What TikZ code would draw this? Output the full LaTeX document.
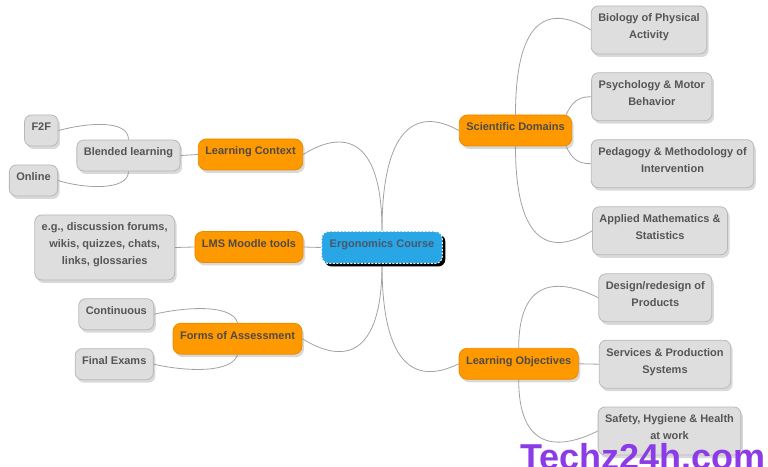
\documentclass[tikz,border=0pt]{standalone}
\usepackage{fontspec}
\setmainfont{Liberation Sans}
\usepackage{tikz}
\usetikzlibrary{shadows,calc}
\definecolor{boxfill}{HTML}{DEDEDE}
\definecolor{boxline}{HTML}{B8B8B8}
\definecolor{boxtext}{HTML}{555555}
\definecolor{topicfill}{HTML}{FF9900}
\definecolor{topicline}{HTML}{E88B00}
\definecolor{topictext}{HTML}{4F4A45}
\definecolor{rootfill}{HTML}{29A6E6}
\definecolor{roottext}{HTML}{47586A}
\definecolor{linkgray}{HTML}{A2A2A2}
\definecolor{wmark}{RGB}{140,60,230}
\pgfdeclarelayer{back}
\pgfsetlayers{back,main}
\tikzset{
    box/.style={
        draw=boxline,
        fill=boxfill,
        line width=0.8pt,
        rounded corners=7pt,
        text=boxtext,
        font=\fontsize{11}{17}\selectfont\bfseries,
        align=center,
        inner xsep=7pt,
        text depth=7pt,
        minimum height=31pt,
        drop shadow={shadow xshift=2pt, shadow yshift=-3pt, opacity=0.3, fill=gray}
    },
    % two lines of text
    box2/.style={box, minimum height=48pt},
    topic/.style={
        box,
        draw=topicline,
        fill=topicfill,
        text=topictext,
        rounded corners=8pt
    },
    root/.style={
        box,
        draw=white,
        dash pattern=on 2pt off 1.5pt,
        line width=1pt,
        fill=rootfill,
        text=roottext,
        minimum height=32pt,
        inner xsep=8pt,
        drop shadow={shadow xshift=3pt, shadow yshift=-3pt, opacity=1, fill=black}
    },
    link/.style={draw=linkgray, line width=0.8pt}
}

\begin{document}
\begin{tikzpicture}[x=1pt, y=1pt]
    \useasboundingbox (0,0) rectangle (768,466);

    % centre
    \node[root] (erg) at (382,218.5) {Ergonomics Course};

    % main topics
    \node[topic] (ctx) at (250.5,311.5) {Learning Context};
    \node[topic] (lms) at (249,219) {LMS Moodle tools};
    \node[topic] (asm) at (237.5,127.3) {Forms of Assessment};
    \node[topic] (sci) at (515.5,335.5) {Scientific Domains};
    \node[topic] (obj) at (518.7,102.2) {Learning Objectives};

    % left side
    \node[box] (bl) at (128.5,310.5) {Blended learning};
    \node[box] (f2f) at (41.3,335.5) {F2F};
    \node[box] (onl) at (33.5,285.5) {Online};
    \node[box, minimum height=65pt] (eg) at (104.7,218.5) {e.g., discussion forums,\\wikis, quizzes, chats,\\links, glossaries};
    \node[box] (cont) at (116.3,151.8) {Continuous};
    \node[box] (fin) at (114.3,101.8) {Final Exams};

    % right side
    \node[box2] (bio) at (649,436) {Biology of Physical\\Activity};
    \node[box2] (psy) at (651.8,369.3) {Psychology \& Motor\\Behavior};
    \node[box2] (ped) at (672.5,302.3) {Pedagogy \& Methodology of\\Intervention};
    \node[box2] (app) at (660,235.2) {Applied Mathematics \&\\Statistics};
    \node[box2] (des) at (655.3,168.2) {Design/redesign of\\Products};
    \node[box2] (srv) at (665,101.8) {Services \& Production\\Systems};
    \node[box2] (saf) at (669.5,35) {Safety, Hygiene \& Health\\at work};

    \begin{pgfonlayer}{back}
        % centre to topics
        \draw[link] (ctx.east) .. controls +(40,25) and +(0,95) .. (erg.north);
        \draw[link] (erg.north) .. controls +(0,100) and +(-45,25) .. (sci.west);
        \draw[link] (lms.east) -- (erg.west);
        \draw[link] (asm.east) .. controls +(40,-25) and +(0,-95) .. (erg.south);
        \draw[link] (erg.south) .. controls +(0,-100) and +(-45,-22) .. (obj.west);

        % left branches
        \draw[link] (ctx.west) -- (bl.east);
        \draw[link] (bl.north) .. controls +(0,20) and +(30,8) .. (f2f.east);
        \draw[link] (bl.south) .. controls +(0,-20) and +(25,-8) .. (onl.east);
        \draw[link] (lms.west) -- (eg.east);
        \draw[link] (asm.north) .. controls +(-5,18) and +(35,8) .. (cont.east);
        \draw[link] (asm.south) .. controls +(-5,-18) and +(35,-8) .. (fin.east);

        % right branches
        \draw[link] (sci.north) .. controls +(0,100) and +(-40,25) .. (bio.west);
        \draw[link] ($(sci.north east)+(-6,0)$) .. controls +(6,12) and +(-14,0) .. (psy.west);
        \draw[link] ($(sci.south east)+(-6,0)$) .. controls +(6,-12) and +(-14,0) .. (ped.west);
        \draw[link] (sci.south) .. controls +(0,-100) and +(-40,-25) .. (app.west);
        \draw[link] (obj.north) .. controls +(0,70) and +(-40,20) .. (des.west);
        \draw[link] (obj.east) -- (srv.west);
        \draw[link] (obj.south) .. controls +(0,-70) and +(-40,-20) .. (saf.west);
    \end{pgfonlayer}

    % watermark
    \node[anchor=base west, inner sep=0pt, text=wmark, font=\fontsize{36}{36}\selectfont\bfseries] (mark) at (520,-3) {Techz24h.com};
\end{tikzpicture}
\end{document}
